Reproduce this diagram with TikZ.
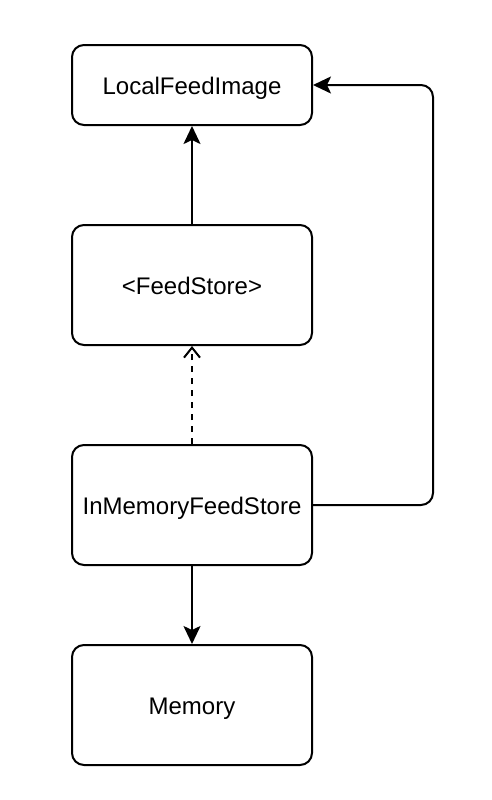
\documentclass[tikz,border=0pt]{standalone}
\usepackage{fontspec}
\setmainfont{Liberation Sans}
\usetikzlibrary{arrows.meta}

\begin{document}
\begin{tikzpicture}[x=0.5pt,y=-0.5pt,line width=1pt,
    >={Stealth[length=9pt,width=8.5pt,inset=2pt]},
    storebox/.style={draw,rounded corners=6pt,minimum width=120pt,minimum height=60pt,
      align=center,text height=10pt,text depth=1pt,font=\fontsize{12}{14}\selectfont}]
  \useasboundingbox (0,0) rectangle (492,800);
  % boxes
  \node[storebox,minimum height=40pt] (image) at (192,85) {LocalFeedImage};
  \node[storebox] (store) at (192,285) {<FeedStore>};
  \node[storebox] (inmem) at (192,505) {InMemoryFeedStore};
  \node[storebox] (memory) at (192,705) {Memory};
  % connectors
  \draw[->] (store) -- (image);
  \draw[dash pattern=on 3pt off 3pt,-{Straight Barb[length=5pt,width=8pt]}] (inmem) -- (store);
  \draw[->] (inmem) -- (memory);
  \draw[->,rounded corners=6pt] (inmem.east) -- ++(120,0) |- (image.east);
\end{tikzpicture}
\end{document}
